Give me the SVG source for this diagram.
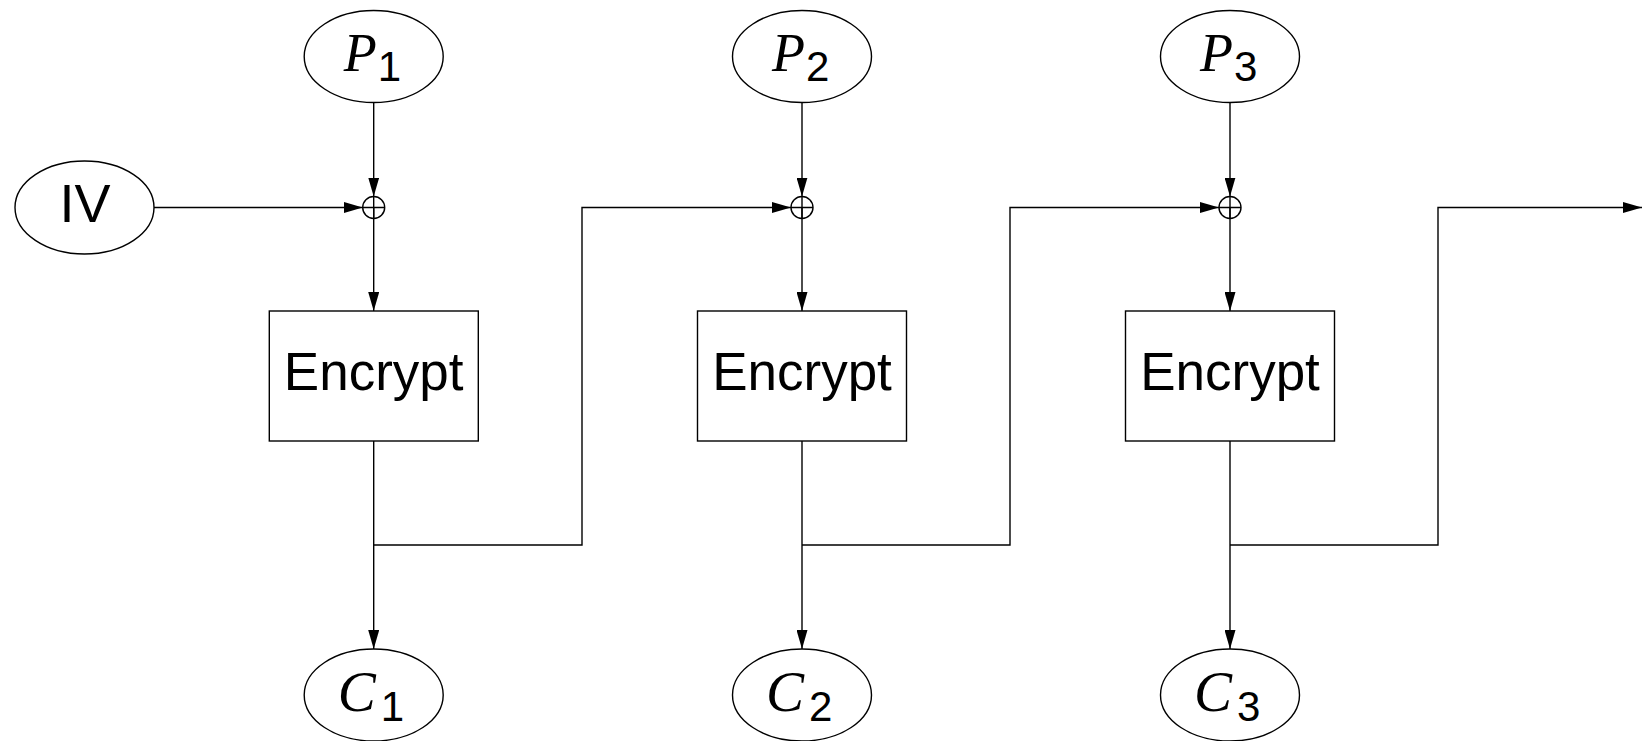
<svg xmlns="http://www.w3.org/2000/svg" width="1642" height="741" viewBox="0 0 1642 741">
<style>
.sh{fill:#fff;stroke:#000;stroke-width:1.4}
.ln{fill:none;stroke:#000;stroke-width:1.4}
.ar{marker-end:url(#ah)}
.sans{font-family:"Liberation Sans",Arial,sans-serif;fill:#000}
.mi{font-family:"Liberation Serif","Times New Roman",serif;font-style:italic;font-size:54px;fill:#000}
.mc{font-size:57px}
.sub{font-family:"Liberation Sans",Arial,sans-serif;font-size:42px;fill:#000}
.big{font-size:54px}
.enc{font-size:53px}
</style>
<defs>
<marker id="ah" viewBox="0 0 19 11" refX="19" refY="5.5" markerWidth="19" markerHeight="11" markerUnits="userSpaceOnUse" orient="auto">
<path d="M0,0 L19,5.5 L0,11 Z" fill="#000"/>
</marker>
</defs>
<rect width="1642" height="741" fill="#fff"/>
<g id="connectors">
<line class="ln ar" x1="154" y1="207.5" x2="362.7" y2="207.5"/>
<line class="ln ar" x1="373.7" y1="102.5" x2="373.7" y2="196.5"/>
<line class="ln ar" x1="373.7" y1="207.5" x2="373.7" y2="311"/>
<line class="ln ar" x1="373.7" y1="441" x2="373.7" y2="649"/>
<polyline class="ln ar" points="373.7,545 582,545 582,207.5 791,207.5"/>
<line class="ln ar" x1="802" y1="102.5" x2="802" y2="196.5"/>
<line class="ln ar" x1="802" y1="207.5" x2="802" y2="311"/>
<line class="ln ar" x1="802" y1="441" x2="802" y2="649"/>
<polyline class="ln ar" points="802,545 1010,545 1010,207.5 1219,207.5"/>
<line class="ln ar" x1="1230" y1="102.5" x2="1230" y2="196.5"/>
<line class="ln ar" x1="1230" y1="207.5" x2="1230" y2="311"/>
<line class="ln ar" x1="1230" y1="441" x2="1230" y2="649"/>
<polyline class="ln ar" points="1230,545 1438,545 1438,207.5 1642,207.5"/>
</g>
<g id="xor1"><circle class="ln" cx="373.7" cy="207.5" r="11"/><path class="ln" d="M362.7,207.5H384.7M373.7,196.5V218.5"/></g>
<g id="xor2"><circle class="ln" cx="802" cy="207.5" r="11"/><path class="ln" d="M791,207.5H813M802,196.5V218.5"/></g>
<g id="xor3"><circle class="ln" cx="1230" cy="207.5" r="11"/><path class="ln" d="M1219,207.5H1241M1230,196.5V218.5"/></g>
<g id="IV"><ellipse class="sh" cx="84.5" cy="207.5" rx="69.5" ry="46.5"/><text class="sans big" x="85" y="222" text-anchor="middle">IV</text></g>
<g id="P1"><ellipse class="sh" cx="373.7" cy="56.5" rx="69.5" ry="46"/><text class="mi" x="343.7" y="71">P</text><text class="sub" x="377.7" y="81">1</text></g>
<g id="P2"><ellipse class="sh" cx="802" cy="56.5" rx="69.5" ry="46"/><text class="mi" x="772" y="71">P</text><text class="sub" x="806" y="81">2</text></g>
<g id="P3"><ellipse class="sh" cx="1230" cy="56.5" rx="69.5" ry="46"/><text class="mi" x="1200" y="71">P</text><text class="sub" x="1234" y="81">3</text></g>
<g id="E1"><rect class="sh" x="269.3" y="311" width="209" height="130"/><text class="sans enc" x="373.7" y="390" text-anchor="middle">Encrypt</text></g>
<g id="E2"><rect class="sh" x="697.5" y="311" width="209" height="130"/><text class="sans enc" x="802" y="390" text-anchor="middle">Encrypt</text></g>
<g id="E3"><rect class="sh" x="1125.5" y="311" width="209" height="130"/><text class="sans enc" x="1230" y="390" text-anchor="middle">Encrypt</text></g>
<g id="C1"><ellipse class="sh" cx="373.7" cy="695" rx="69.5" ry="46"/><text class="mi mc" x="337.7" y="711">C</text><text class="sub" x="380.7" y="721">1</text></g>
<g id="C2"><ellipse class="sh" cx="802" cy="695" rx="69.5" ry="46"/><text class="mi mc" x="766" y="711">C</text><text class="sub" x="809" y="721">2</text></g>
<g id="C3"><ellipse class="sh" cx="1230" cy="695" rx="69.5" ry="46"/><text class="mi mc" x="1194" y="711">C</text><text class="sub" x="1237" y="721">3</text></g>
</svg>
